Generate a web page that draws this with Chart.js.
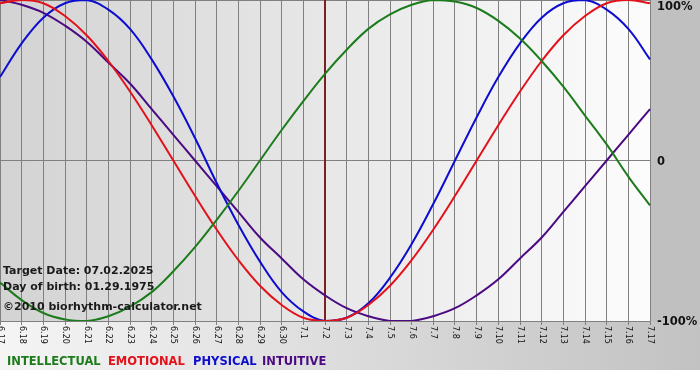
<!DOCTYPE html>
<html>
<head>
<meta charset="utf-8">
<script src="https://cdn.jsdelivr.net/npm/chart.js@4"></script>
<style>
html,body{margin:0;padding:0;background:#fff;}
#wrap{width:700px;height:380px;position:relative;}
</style>
</head>
<body>
<div id="wrap"><canvas id="c" width="700" height="380"></canvas></div>
<script>
// ---- data ----
const categories = ['6.17','6.18','6.19','6.20','6.21','6.22','6.23','6.24','6.25','6.26','6.27','6.28','6.29','6.30',
  '7.1','7.2','7.3','7.4','7.5','7.6','7.7','7.8','7.9','7.10','7.11','7.12','7.13','7.14','7.15','7.16','7.17'];
const intellectual = [-76,-87,-95,-99,-100,-97,-91,-82,-69,-54,-37,-19,0,19,37,54,69,82,91,97,100,99,95,87,76,62,46,28,10,-10,-28];
const emotional = [98,100,98,90,78,62,43,22,0,-22,-43,-62,-78,-90,-98,-100,-98,-90,-78,-62,-43,-22,0,22,43,62,78,90,98,100,98];
const physical = [52,73,89,98,100,94,82,63,40,14,-14,-40,-63,-82,-94,-100,-98,-89,-73,-52,-27,0,27,52,73,89,98,100,94,82,63];
const intuitive = [100,97,92,84,74,61,48,32,16,0,-16,-32,-48,-61,-74,-84,-92,-97,-100,-100,-97,-92,-84,-74,-61,-48,-32,-16,0,16,32];
const yTickValues = [100, 0, -100];
const yTickLabels = ['100%', '0', '-100%'];
const seriesNames = ['INTELLECTUAL', 'EMOTIONAL', 'PHYSICAL', 'INTUITIVE'];
const infoLines = ['Target Date: 07.02.2025', 'Day of birth: 01.29.1975', '\u00a92010 biorhythm-calculator.net'];
const markerCategory = '7.2';

const seriesColors = ['#1c7c1c', '#e3121a', '#0d0dcf', '#4b0a82'];
const seriesData = [intellectual, emotional, physical, intuitive];

const FONT = '"DejaVu Sans", Verdana, sans-serif';

const decor = {
  id: 'decor',
  beforeDraw(chart) {
    const ctx = chart.ctx, a = chart.chartArea;
    const W = chart.width;
    ctx.save();
    ctx.fillStyle = '#ffffff';
    ctx.fillRect(0, 0, W, chart.height);
    ctx.fillStyle = '#c0c0c0';
    ctx.fillRect(a.right, 0, W - a.right, a.bottom);
    let g = ctx.createLinearGradient(0, 0, W, 0);
    g.addColorStop(0, '#f5f5f5');
    g.addColorStop(1, '#c2c2c2');
    ctx.fillStyle = g;
    ctx.fillRect(0, a.bottom, W, 370 - a.bottom);
    g = ctx.createLinearGradient(a.left, 0, a.right, 0);
    g.addColorStop(0, '#d3d3d3');
    g.addColorStop(1, '#fcfcfc');
    ctx.fillStyle = g;
    ctx.fillRect(a.left, a.top, a.right - a.left, a.bottom - a.top);
    ctx.restore();
  },
  beforeDatasetsDraw(chart) {
    const ctx = chart.ctx, a = chart.chartArea;
    const xs = chart.scales.x;
    const x = xs.getPixelForValue(categories.indexOf(markerCategory));
    ctx.save();
    ctx.strokeStyle = '#7d1f1f';
    ctx.lineWidth = 2;
    ctx.beginPath();
    ctx.moveTo(x, a.top);
    ctx.lineTo(x, a.bottom);
    ctx.stroke();
    ctx.restore();
  },
  afterDraw(chart) {
    const ctx = chart.ctx, a = chart.chartArea;
    const xs = chart.scales.x, ys = chart.scales.y;
    ctx.save();
    ctx.fillStyle = '#111';
    ctx.font = '8px ' + FONT;
    ctx.textAlign = 'left';
    ctx.textBaseline = 'middle';
    categories.forEach((lab, i) => {
      const x = xs.getPixelForValue(i);
      ctx.save();
      ctx.translate(x, a.bottom + 5);
      ctx.rotate(Math.PI / 2);
      ctx.fillText(lab, 0, 0);
      ctx.restore();
    });
    ctx.font = 'bold 11.5px ' + FONT;
    ctx.textBaseline = 'middle';
    yTickValues.forEach((v, i) => {
      let y = ys.getPixelForValue(v) + 1.5;
      if (y < 7) y = 7;
      ctx.fillText(yTickLabels[i], a.right + 7, y);
    });
    ctx.font = 'bold 11px ' + FONT;
    ctx.fillStyle = '#1a1a1a';
    const infoY = [271, 287, 307];
    infoLines.forEach((t, i) => ctx.fillText(t, a.left + 3, infoY[i]));
    ctx.font = 'bold 11.5px ' + FONT;
    const starts = [7, 108, 193, 262];
    seriesNames.forEach((n, i) => {
      ctx.fillStyle = seriesColors[i];
      ctx.fillText(n, starts[i], 362);
    });
    ctx.restore();
  }
};

new Chart(document.getElementById('c'), {
  type: 'line',
  data: {
    labels: categories,
    datasets: seriesNames.map((n, i) => ({
      label: n,
      data: seriesData[i],
      borderColor: seriesColors[i],
      borderWidth: 2,
      pointRadius: 0,
      fill: false,
      tension: 0.4
    }))
  },
  options: {
    responsive: false,
    animation: false,
    devicePixelRatio: 1,
    layout: { padding: { left: 0, top: 0, right: 0, bottom: 55 } },
    plugins: { legend: { display: false }, tooltip: { enabled: false } },
    scales: {
      x: {
        offset: false,
        ticks: { display: false },
        grid: { color: '#808080', lineWidth: 1, drawTicks: true, tickLength: 4 },
        border: { display: true, color: '#808080' },
        afterFit(s) { s.height = 4; }
      },
      y: {
        position: 'right',
        min: -100, max: 100,
        afterBuildTicks(s) { s.ticks = yTickValues.map(v => ({ value: v })); },
        ticks: { display: false },
        grid: { color: '#808080', lineWidth: 1, drawTicks: false },
        border: { display: false },
        afterFit(s) { s.width = 50; }
      }
    }
  },
  plugins: [decor]
});
</script>
</body>
</html>
